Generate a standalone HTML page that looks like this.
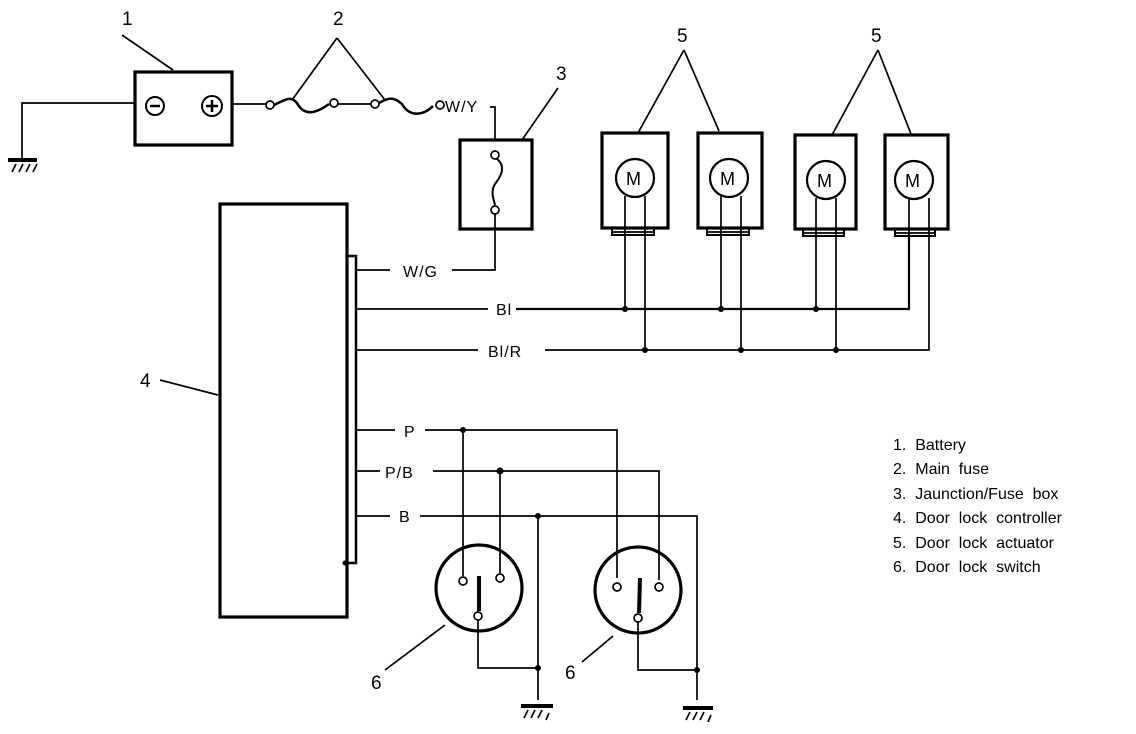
<!DOCTYPE html>
<html><head><meta charset="utf-8"><style>
html,body{margin:0;padding:0;background:#fff;}
svg{display:block;}
text{font-family:"Liberation Sans",sans-serif;fill:#000;}
</style></head><body>
<svg width="1136" height="734" viewBox="0 0 1136 734" xmlns="http://www.w3.org/2000/svg">
<g fill="none" stroke="#000" stroke-width="1.7">
<rect x="135" y="72" width="97" height="73" stroke-width="3.2"/>
<circle cx="155" cy="106" r="9" stroke-width="2"/><line x1="150" y1="106" x2="160" y2="106" stroke-width="2.5"/>
<circle cx="212" cy="106" r="10" stroke-width="2"/><line x1="206" y1="106" x2="218" y2="106" stroke-width="2.5"/><line x1="212" y1="100" x2="212" y2="112" stroke-width="2.5"/>
<polyline points="135,103 22,103 22,160"/>
<line x1="8" y1="160" x2="37" y2="160" stroke-width="4"/>
<path d="M12 172 L16 164 M19 172 L23 164 M26 172 L30 164 M33 172 L37 164"/>
<line x1="232" y1="104" x2="266" y2="104"/>
<circle cx="270" cy="105" r="4"/>
<path d="M274 105 C285 100 290 95 297 103 C305 118 318 112 329 104" stroke-width="2.5"/>
<circle cx="334" cy="103" r="4"/>
<line x1="338" y1="104" x2="371" y2="104"/>
<circle cx="375" cy="104" r="4"/>
<path d="M379 103 C388 98 393 96 402 104 C410 118 424 115 433 106" stroke-width="2.5"/>
<circle cx="440" cy="105" r="4"/>
<polyline points="490,107 495,107 495,140"/>
<rect x="460" y="140" width="72" height="89" stroke-width="3.2"/>
<circle cx="495" cy="155" r="4"/>
<path d="M497 159 C508 168 498 180 495 184 C490 192 494 200 495 205" stroke-width="2"/>
<circle cx="495" cy="210" r="4"/>
<polyline points="495,214 495,270 452,270"/>
<line x1="356" y1="270" x2="390" y2="270"/>
<rect x="220" y="204" width="127" height="413" stroke-width="3.2"/>
<polyline points="347,256 356,256 356,563 345,563" stroke-width="2.5"/>
<line x1="356" y1="309" x2="488" y2="309"/>
<polyline points="516,309 909,309 909,232" stroke-width="2.2"/>
<line x1="356" y1="350" x2="478" y2="350"/>
<polyline points="545,350 929,350 929,232"/>
<rect x="602" y="133" width="66" height="95" stroke-width="3.2"/>
<rect x="698" y="133" width="64" height="95" stroke-width="3.2"/>
<rect x="795" y="135" width="61" height="94" stroke-width="3.2"/>
<rect x="885" y="135" width="63" height="94" stroke-width="3.2"/>
<path d="M612 228 v7 h42 v-7 M707 228 v7 h42 v-7 M803 229 v7 h41 v-7 M895 229 v7 h40 v-7" stroke-width="2"/>
<line x1="612" y1="232" x2="654" y2="232"/><line x1="707" y1="232" x2="749" y2="232"/><line x1="803" y1="233" x2="844" y2="233"/><line x1="895" y1="233" x2="935" y2="233"/>
<circle cx="635" cy="178" r="19" stroke-width="2.2"/>
<circle cx="729" cy="178" r="19" stroke-width="2.2"/>
<circle cx="826" cy="180" r="19" stroke-width="2.2"/>
<circle cx="914" cy="180" r="19" stroke-width="2.2"/>
<path d="M625 196 V309 M645 196 V350 M721 196 V309 M741 196 V350 M816 198 V309 M836 198 V350 M909 198 V232 M929 198 V232"/>
<path d="M122 35 L173 70 M337 38 L292 100 M337 38 L385 100 M558 88 L522 140 M684 50 L638 133 M684 50 L719 131 M878 50 L832 135 M878 50 L911 134 M160 380 L218 395 M385 670 L445 625 M582 662 L613 636"/>
<line x1="356" y1="430" x2="395" y2="430"/>
<polyline points="425,430 617,430 617,578"/>
<line x1="356" y1="471" x2="380" y2="471"/>
<polyline points="433,471 659,471 659,580"/>
<line x1="356" y1="516" x2="390" y2="516"/>
<polyline points="420,516 697,516 697,700"/>
<line x1="463" y1="430" x2="463" y2="576"/>
<line x1="500" y1="471" x2="500" y2="573"/>
<line x1="538" y1="516" x2="538" y2="700"/>
<circle cx="479" cy="588" r="43" stroke-width="3.2"/>
<circle cx="638" cy="590" r="43" stroke-width="3.2"/>
<circle cx="463" cy="581" r="4"/><circle cx="500" cy="578" r="4"/><circle cx="478" cy="616" r="4"/>
<circle cx="617" cy="587" r="4"/><circle cx="659" cy="587" r="4"/><circle cx="638" cy="618" r="4"/>
<line x1="479" y1="576" x2="479" y2="611" stroke-width="4"/>
<line x1="640" y1="578" x2="639" y2="613" stroke-width="4"/>
<polyline points="478,620 478,668 538,668"/>
<polyline points="638,622 638,670 697,670"/>
<line x1="521" y1="706" x2="553" y2="706" stroke-width="4"/>
<path d="M524 718 L528 710 M531 718 L535 710 M538 718 L542 710 M546 720 L549 713"/>
<line x1="683" y1="708" x2="713" y2="708" stroke-width="4"/>
<path d="M686 720 L690 712 M693 720 L697 712 M700 720 L704 712 M708 722 L711 715"/>
</g>
<g fill="#000">
<circle cx="345" cy="563" r="2.5"/>
<circle cx="625" cy="309" r="3"/><circle cx="721" cy="309" r="3"/><circle cx="816" cy="309" r="3"/>
<circle cx="645" cy="350" r="3"/><circle cx="741" cy="350" r="3"/><circle cx="836" cy="350" r="3"/>
<circle cx="463" cy="430" r="3"/><circle cx="500" cy="471" r="3.5"/><circle cx="538" cy="516" r="3"/>
<circle cx="538" cy="668" r="3"/><circle cx="697" cy="670" r="3"/>
</g>
<g font-size="19">
<text x="122" y="25">1</text><text x="333" y="25">2</text><text x="556" y="80">3</text>
<text x="677" y="42">5</text><text x="871" y="42">5</text>
<text x="140" y="387">4</text><text x="371" y="689">6</text><text x="565" y="679">6</text>
</g>
<g font-size="16" letter-spacing="1">
<text x="445" y="112">W/Y</text>
<text x="403" y="277">W/G</text>
<text x="496" y="315">Bl</text>
<text x="488" y="357">Bl/R</text>
<text x="404" y="437">P</text>
<text x="385" y="478">P/B</text>
<text x="399" y="522">B</text>
</g>
<g font-size="16">
<text x="893" y="450">1.&#160; Battery</text>
<text x="893" y="474">2.&#160; Main&#160; fuse</text>
<text x="893" y="499">3.&#160; Jaunction/Fuse&#160; box</text>
<text x="893" y="523">4.&#160; Door&#160; lock&#160; controller</text>
<text x="893" y="548">5.&#160; Door&#160; lock&#160; actuator</text>
<text x="893" y="572">6.&#160; Door&#160; lock&#160; switch</text>
</g>
<g font-size="18">
<text x="626" y="185">M</text>
<text x="720" y="185">M</text>
<text x="817" y="187">M</text>
<text x="905" y="187">M</text>
</g>
</svg>
</body></html>
